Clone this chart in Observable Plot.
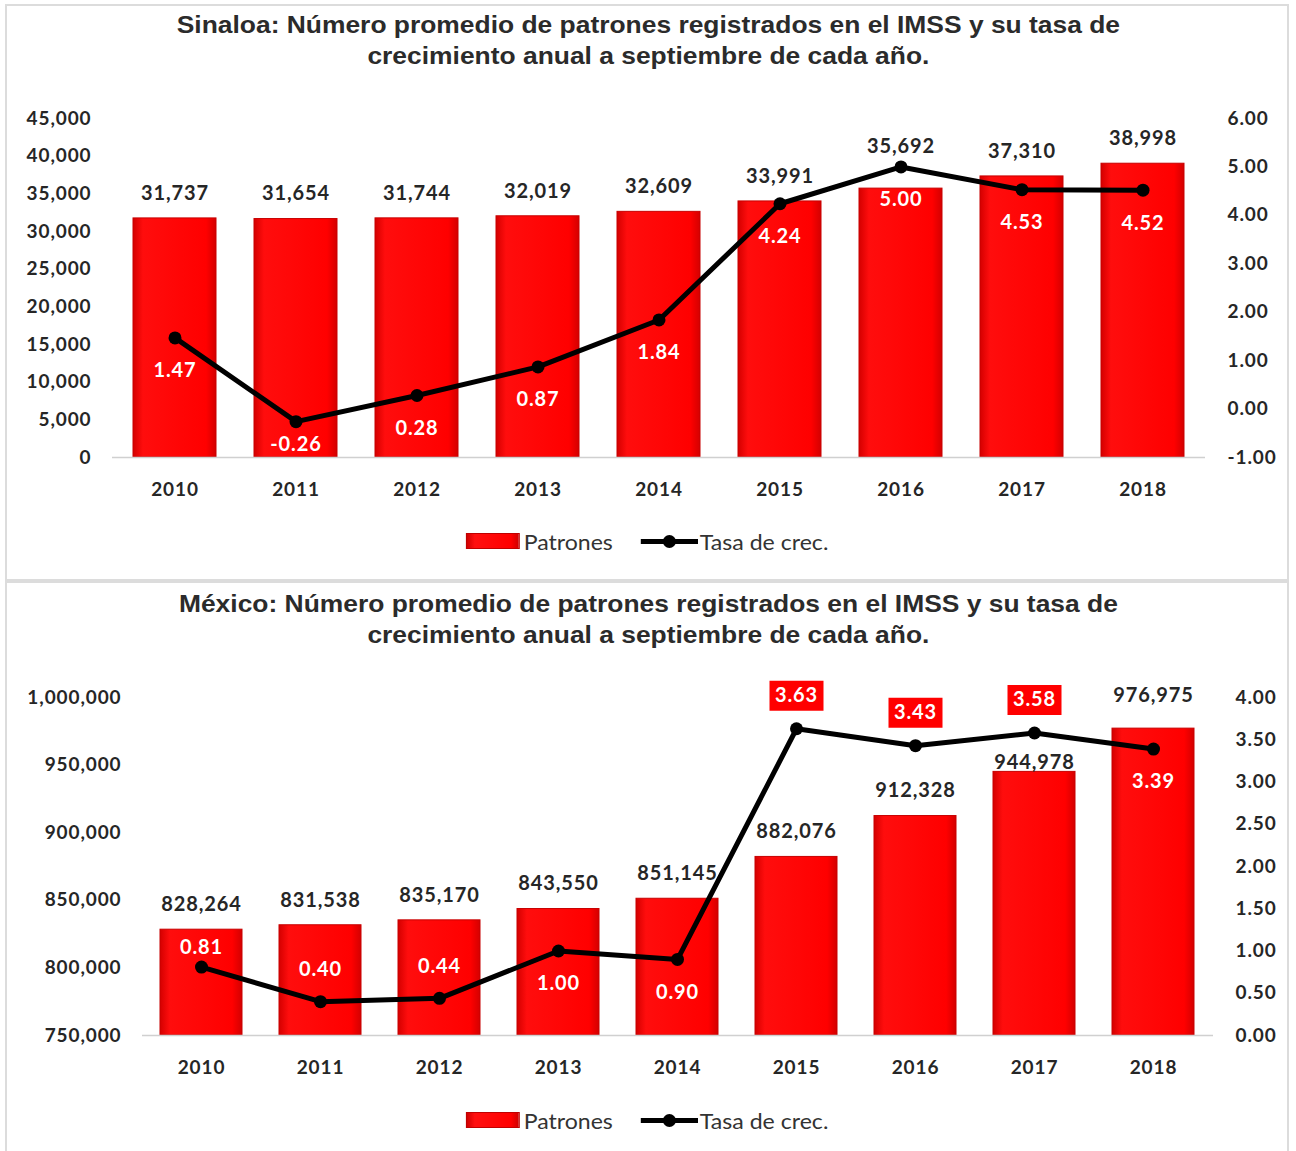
<!DOCTYPE html>
<html>
<head>
<meta charset="utf-8">
<script src="https://cdn.jsdelivr.net/npm/d3@7"></script>
<script src="https://cdn.jsdelivr.net/npm/@observablehq/plot@0.6"></script>
<style>
  html, body { margin: 0; padding: 0; background: #fff; }
  body { position: relative; width: 1296px; height: 1151px; overflow: hidden; font-family: Lato, "Open Sans", sans-serif; }
  .panel { position: absolute; left: 5px; width: 1284px; border: 2px solid #dcdcdc; box-sizing: border-box; }
  .title { position: absolute; left: 0; width: 1296px; text-align: center; font: bold 24px "Liberation Sans", Arial, sans-serif; color: #2b2b2b; line-height: 31px; transform: scaleX(1.1); transform-origin: 644px 0; }
  .chart { position: absolute; left: 0; }
  .legend { position: absolute; left: 0; width: 1296px; display: flex; justify-content: center; align-items: center; font: 21px Lato, sans-serif; color: #333; height: 24px; transform: scaleX(1.1); transform-origin: 654px 0; }
  .sw-bar { width: 49px; height: 16px; background: linear-gradient(90deg, #d00000, #ff1010 15%, #ff0000 85%, #d00000); border: 1px solid #c00000; box-sizing: border-box; margin-right: 3px; }
  .sw-line { position: relative; width: 52px; height: 24px; margin-left: 25px; margin-right: 2px; }
  .sw-line::before { content: ""; position: absolute; left: 0; right: 0; top: 10px; height: 5px; background: #000; }
  .sw-line::after { content: ""; position: absolute; left: 20px; top: 6px; width: 12px; height: 13px; border-radius: 50%; background: #000; }
</style>
</head>
<body>
<svg width="0" height="0" style="position:absolute">
  <defs>
    <linearGradient id="barGrad" x1="0" x2="1" y1="0" y2="0">
      <stop offset="0" stop-color="#d40000"/>
      <stop offset="0.12" stop-color="#ff0d0d"/>
      <stop offset="0.88" stop-color="#ff0000"/>
      <stop offset="1" stop-color="#d40000"/>
    </linearGradient>
  </defs>
</svg>

<div class="panel" style="top:4px;height:577px;"></div>
<div class="panel" style="top:581px;height:580px;"></div>

<div class="title" style="top:9px;">Sinaloa: Número promedio de patrones registrados en el IMSS y su tasa de<br>crecimiento anual a septiembre de cada año.</div>
<div id="chart1" class="chart" style="top:95px;"></div>
<div class="legend" style="top:529px;"><div class="sw-bar"></div><span>Patrones</span><div class="sw-line"></div><span>Tasa de crec.</span></div>

<div class="title" style="top:588px;">México: Número promedio de patrones registrados en el IMSS y su tasa de<br>crecimiento anual a septiembre de cada año.</div>
<div id="chart2" class="chart" style="top:670px;"></div>
<div class="legend" style="top:1108px;"><div class="sw-bar"></div><span>Patrones</span><div class="sw-line"></div><span>Tasa de crec.</span></div>

<script>
// ---------- DATA ----------
const years = ["2010", "2011", "2012", "2013", "2014", "2015", "2016", "2017", "2018"];

const sinaloaPatrones = [31737, 31654, 31744, 32019, 32609, 33991, 35692, 37310, 38998];
const sinaloaTasa = [1.47, -0.26, 0.28, 0.87, 1.84, 4.24, 5.00, 4.53, 4.52];
const sinaloaLeftTicks = [0, 5000, 10000, 15000, 20000, 25000, 30000, 35000, 40000, 45000];
const sinaloaRightTicks = [-1, 0, 1, 2, 3, 4, 5, 6];

const mexicoPatrones = [828264, 831538, 835170, 843550, 851145, 882076, 912328, 944978, 976975];
const mexicoTasa = [0.81, 0.40, 0.44, 1.00, 0.90, 3.63, 3.43, 3.58, 3.39];
const mexicoLeftTicks = [750000, 800000, 850000, 900000, 950000, 1000000];
const mexicoRightTicks = [0, 0.5, 1, 1.5, 2, 2.5, 3, 3.5, 4];

// ---------- CHART BUILDER ----------
const rectSymbol = { draw(ctx) { ctx.rect(-27, -15, 54, 30); } };
const hyphen = s => s.replace("\u2212", "-");
const fmt2 = v => hyphen(d3.format(".2f")(v));
const fmtInt = d3.format(",");

function buildChart(opts) {
  const { values, rates, leftTicks, rightTicks, yDomain, rDomain, height,
          margins, padInner, rateBelow, avoidPoint, barNudge } = opts;
  const toY = d3.scaleLinear().domain(rDomain).range(yDomain);
  const fromY = toY.invert;
  const k = (height - margins.top - margins.bottom) / (yDomain[1] - yDomain[0]); // px per unit
  const base = yDomain[0];
  const data = years.map((year, i) => {
    const value = values[i], rate = rates[i];
    const ry = toY(rate);
    // bar value label (above the bar)
    let ly = value + 25 / k;
    if (avoidPoint && ry > value) ly = Math.max(ly, ry + 20 / k);
    if (barNudge && barNudge[year]) ly -= barNudge[year] / k;
    // rate label
    const below = rateBelow(year);
    const boxed = !below && ry > value;
    let ry2;
    if (below) ry2 = Math.max(ry - 33 / k, base + 13 / k);
    else if (boxed) ry2 = ry + 33 / k;
    else ry2 = Math.min(ry + 32 / k, value - 18 / k);
    return { year, value, rate, ry, ly, ry2, boxed };
  });

  return Plot.plot({
    width: 1296,
    height,
    marginTop: margins.top,
    marginBottom: margins.bottom,
    marginLeft: margins.left,
    marginRight: margins.right,
    style: { fontFamily: "Lato, sans-serif", fontSize: "19px", fontWeight: "bold", color: "#262626", background: "transparent", overflow: "visible", letterSpacing: "0.9px" },
    x: { domain: years, paddingInner: padInner, paddingOuter: padInner / 2, label: null },
    y: { domain: yDomain, label: null },
    marks: [
      Plot.axisX({ tickSize: 0, tickPadding: 25, label: null }),
      Plot.axisY(leftTicks, { anchor: "left", tickSize: 0, tickPadding: 21, tickFormat: fmtInt, label: null }),
      Plot.axisY(rightTicks.map(toY), { anchor: "right", tickSize: 0, tickPadding: 22, tickFormat: v => fmt2(fromY(v) + 0), label: null }),
      Plot.barY(data, { x: "year", y1: base, y2: "value", fill: "url(#barGrad)", stroke: "#c80000", strokeWidth: 1 }),
      Plot.ruleY([base], { stroke: "#d0d0d0", strokeWidth: 1.5 }),
      Plot.text(data, { x: "year", y: "ly", text: d => fmtInt(d.value), fill: "#262626", fontSize: 20, fontWeight: "bold" }),
      Plot.line(data, { x: "year", y: "ry", stroke: "#000", strokeWidth: 5 }),
      Plot.dot(data, { x: "year", y: "ry", r: 6.5, fill: "#000", stroke: "none" }),
      Plot.dot(data.filter(d => d.boxed), { x: "year", y: "ry2", symbol: rectSymbol, r: 10, fill: "#ff0000", stroke: "none" }),
      Plot.text(data, { x: "year", y: "ry2", text: d => fmt2(d.rate), fill: "#fff", fontSize: 20, fontWeight: "bold" })
    ]
  });
}

// Sinaloa
document.getElementById("chart1").append(buildChart({
  values: sinaloaPatrones, rates: sinaloaTasa,
  leftTicks: sinaloaLeftTicks, rightTicks: sinaloaRightTicks,
  yDomain: [0, 45000], rDomain: [-1, 6], height: 415,
  margins: { top: 23, bottom: 53, left: 112, right: 91 },
  padInner: 0.316,
  rateBelow: () => true,
  avoidPoint: true
}));

// México
const mexicoBelow = new Set(["2013", "2014", "2018"]);
document.getElementById("chart2").append(buildChart({
  values: mexicoPatrones, rates: mexicoTasa,
  leftTicks: mexicoLeftTicks, rightTicks: mexicoRightTicks,
  yDomain: [750000, 1000000], rDomain: [0, 4], height: 420,
  margins: { top: 27, bottom: 55, left: 142, right: 83 },
  padInner: 0.31,
  rateBelow: y => mexicoBelow.has(y),
  avoidPoint: false,
  barNudge: { "2017": 16, "2018": -8 }
}));
</script>
</body>
</html>
